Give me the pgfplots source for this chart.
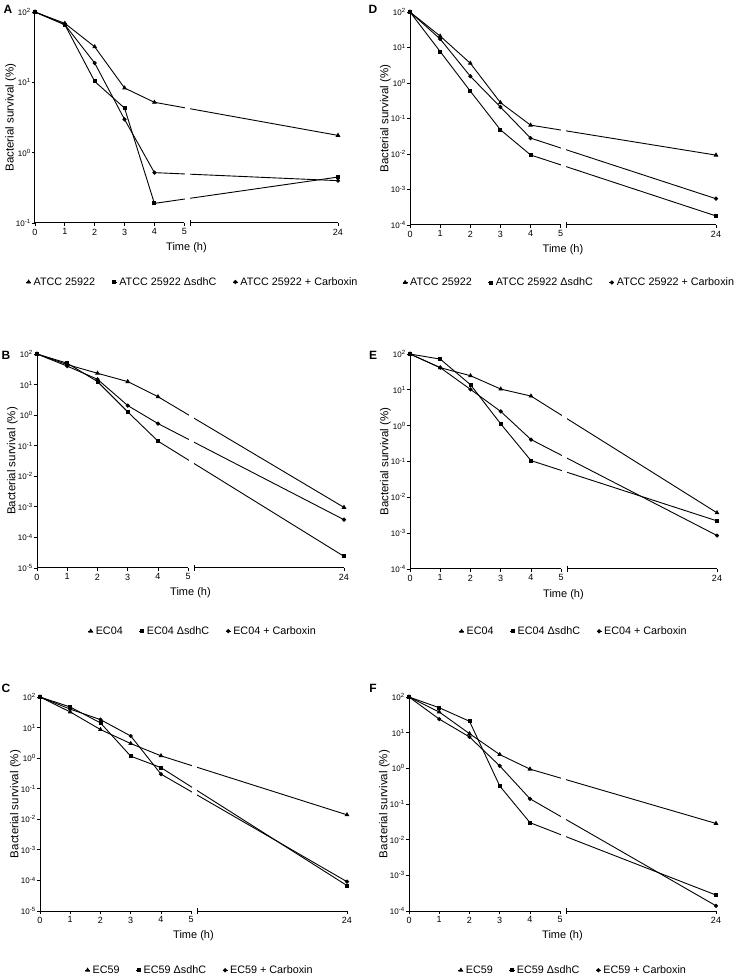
\documentclass[border=0pt]{standalone}
\usepackage{pgfplots}
\pgfplotsset{compat=1.18}
\usepackage{fontspec}
\setmainfont{Liberation Sans}

\newcommand{\brk}{%
  \fill[white] (rel axis cs:0.4950,0.003) rectangle (rel axis cs:0.5100,1.01);
  \draw[line width=1pt] (rel axis cs:0,0) -- (rel axis cs:0.4926,0);
  \draw[line width=1pt] (rel axis cs:0.5123,0) -- (rel axis cs:1,0);
  \draw[line width=0.8pt] ([yshift=-3pt]rel axis cs:0.5123,0) -- ([yshift=3pt]rel axis cs:0.5123,0);
}

\pgfplotsset{
 mypanel/.style={
  scale only axis, width=306pt, height=213pt,
  anchor=south west,
  xmin=0, xmax=10.15,
  ymax=100,
  clip=false,
  axis x line*=bottom, axis y line*=left,
  x axis line style={draw=none},
  y axis line style={-, line width=1pt},
  xtick={0,1,2,3,4,5,10.15}, xticklabels={0,1,2,3,4,5,24},
  tick align=outside,
  major tick length=3.2pt,
  every tick/.style={black, line width=0.8pt},
  yminorticks=false,
  ylabel={Bacterial survival (\%)},
  xlabel={Time (h)},
  ylabel style={at={(axis description cs:-0.08,0.5)}, anchor=center, font=\fontsize{11.5}{13}\selectfont},
  xlabel style={at={(axis description cs:0.5,-0.117)}, anchor=center, font=\fontsize{11}{13}\selectfont},
  xticklabel style={font=\fontsize{9}{10}\selectfont, yshift=1pt},
  yticklabel style={font=\fontsize{8}{10}\selectfont, inner sep=1pt},
  every axis plot/.append style={black, line width=0.9pt},
  legend columns=3,
  legend style={draw=none, fill=none, anchor=center, font=\fontsize{10.8}{12}\selectfont,
    /tikz/every even column/.append style={column sep=14pt}},
  legend image code/.code={\draw[mark repeat=2,mark phase=2] plot coordinates {(0cm,0cm) (0.09cm,0cm) (0.18cm,0cm)};},
 },
 tri/.style={mark=triangle*, mark size=1.9pt},
 sq/.style={mark=square*, mark size=1.5pt},
 ci/.style={mark=*, mark size=1.6pt},
}

\begin{document}
\begin{tikzpicture}
\useasboundingbox (0,0) rectangle (734pt,978pt);

% ---------------- A ----------------
\begin{semilogyaxis}[mypanel, at={(35pt,755pt)}, width=303pt, height=211pt,
  ymin=0.1, ytick={0.1,1,10,100},
  yticklabels={10\textsuperscript{-1},10\textsuperscript{0},10\textsuperscript{1},10\textsuperscript{2}},
  legend style={at={(0.52,-0.28)}}]
\addplot[tri] coordinates {(0,100) (1,69) (2,32) (3,8.3) (4,5.2) (10.15,1.76)};
\addplot[sq]  coordinates {(0,100) (1,66) (2,10.3) (3,4.3) (4,0.19) (10.15,0.45)};
\addplot[ci]  coordinates {(0,100) (1,66) (2,18.8) (3,2.97) (4,0.52) (10.15,0.40)};
\legend{ATCC 25922, ATCC 25922 ΔsdhC, ATCC 25922 + Carboxin}
\brk
\end{semilogyaxis}

% ---------------- D ----------------
\begin{semilogyaxis}[mypanel, at={(410pt,753pt)},
  ymin=1e-4, ytick={1e-4,1e-3,1e-2,0.1,1,10,100},
  yticklabels={10\textsuperscript{-4},10\textsuperscript{-3},10\textsuperscript{-2},10\textsuperscript{-1},10\textsuperscript{0},10\textsuperscript{1},10\textsuperscript{2}},
  legend style={at={(0.52,-0.27)}}]
\addplot[tri] coordinates {(0,100) (1,21) (2,3.6) (3,0.28) (4,0.065) (10.15,0.0093)};
\addplot[sq]  coordinates {(0,100) (1,7.7) (2,0.59) (3,0.048) (4,0.0094) (10.15,1.8e-4)};
\addplot[ci]  coordinates {(0,100) (1,17.4) (2,1.55) (3,0.21) (4,0.028) (10.15,5.5e-4)};
\legend{ATCC 25922, ATCC 25922 ΔsdhC, ATCC 25922 + Carboxin}
\brk
\end{semilogyaxis}

% ---------------- B ----------------
\begin{semilogyaxis}[mypanel, at={(37pt,410pt)}, width=307pt, height=214pt,
  ymin=1e-5, ytick={1e-5,1e-4,1e-3,1e-2,0.1,1,10,100},
  yticklabels={10\textsuperscript{-5},10\textsuperscript{-4},10\textsuperscript{-3},10\textsuperscript{-2},10\textsuperscript{-1},10\textsuperscript{0},10\textsuperscript{1},10\textsuperscript{2}},
  legend style={at={(0.54,-0.295)}}]
\addplot[tri] coordinates {(0,100) (1,45) (2,23.4) (3,12.5) (4,4.0) (10.15,9.6e-4)};
\addplot[sq]  coordinates {(0,100) (1,50) (2,12.5) (3,1.28) (4,0.141) (10.15,2.4e-5)};
\addplot[ci]  coordinates {(0,100) (1,40) (2,14.9) (3,2.06) (4,0.53) (10.15,3.8e-4)};
\legend{EC04, EC04 ΔsdhC, EC04 + Carboxin}
\brk
\end{semilogyaxis}

% ---------------- E ----------------
\begin{semilogyaxis}[mypanel, at={(410pt,409pt)}, width=307pt, height=215pt,
  ymin=1e-4, ytick={1e-4,1e-3,1e-2,0.1,1,10,100},
  yticklabels={10\textsuperscript{-4},10\textsuperscript{-3},10\textsuperscript{-2},10\textsuperscript{-1},10\textsuperscript{0},10\textsuperscript{1},10\textsuperscript{2}},
  legend style={at={(0.533,-0.29)}}]
\addplot[tri] coordinates {(0,100) (1,41.5) (2,24.8) (3,10.5) (4,6.7) (10.15,3.7e-3)};
\addplot[sq]  coordinates {(0,100) (1,72) (2,13.9) (3,1.12) (4,0.106) (10.15,2.2e-3)};
\addplot[ci]  coordinates {(0,100) (1,41.5) (2,10.3) (3,2.49) (4,0.41) (10.15,8.6e-4)};
\legend{EC04, EC04 ΔsdhC, EC04 + Carboxin}
\brk
\end{semilogyaxis}

% ---------------- C ----------------
\begin{semilogyaxis}[mypanel, at={(40pt,67pt)}, width=307pt, height=214pt,
  ymin=1e-5, ytick={1e-5,1e-4,1e-3,1e-2,0.1,1,10,100},
  yticklabels={10\textsuperscript{-5},10\textsuperscript{-4},10\textsuperscript{-3},10\textsuperscript{-2},10\textsuperscript{-1},10\textsuperscript{0},10\textsuperscript{1},10\textsuperscript{2}},
  legend style={at={(0.52,-0.277)}}]
\addplot[tri] coordinates {(0,100) (1,32.4) (2,8.6) (3,3.0) (4,1.19) (10.15,0.014)};
\addplot[sq]  coordinates {(0,100) (1,47) (2,14.2) (3,1.16) (4,0.49) (10.15,6.8e-5)};
\addplot[ci]  coordinates {(0,100) (1,40) (2,18.2) (3,5.3) (4,0.30) (10.15,9.1e-5)};
\legend{EC59, EC59 ΔsdhC, EC59 + Carboxin}
\brk
\end{semilogyaxis}

% ---------------- F ----------------
\begin{semilogyaxis}[mypanel, at={(409pt,67pt)}, width=307pt, height=214pt,
  ymin=1e-4, ytick={1e-4,1e-3,1e-2,0.1,1,10,100},
  yticklabels={10\textsuperscript{-4},10\textsuperscript{-3},10\textsuperscript{-2},10\textsuperscript{-1},10\textsuperscript{0},10\textsuperscript{1},10\textsuperscript{2}},
  legend style={at={(0.534,-0.277)}}]
\addplot[tri] coordinates {(0,100) (1,38) (2,9.4) (3,2.43) (4,0.95) (10.15,0.0285)};
\addplot[sq]  coordinates {(0,100) (1,50) (2,20.9) (3,0.32) (4,0.030) (10.15,2.8e-4)};
\addplot[ci]  coordinates {(0,100) (1,24) (2,7.6) (3,1.17) (4,0.14) (10.15,1.4e-4)};
\legend{EC59, EC59 ΔsdhC, EC59 + Carboxin}
\brk
\end{semilogyaxis}

% panel letters
\node[font=\bfseries\fontsize{12}{14}\selectfont] at (8pt,969pt) {A};
\node[font=\bfseries\fontsize{12}{14}\selectfont] at (373pt,969pt) {D};
\node[font=\bfseries\fontsize{12}{14}\selectfont] at (6pt,623pt) {B};
\node[font=\bfseries\fontsize{12}{14}\selectfont] at (373pt,623pt) {E};
\node[font=\bfseries\fontsize{12}{14}\selectfont] at (6pt,290pt) {C};
\node[font=\bfseries\fontsize{12}{14}\selectfont] at (373pt,290pt) {F};
\end{tikzpicture}
\end{document}
